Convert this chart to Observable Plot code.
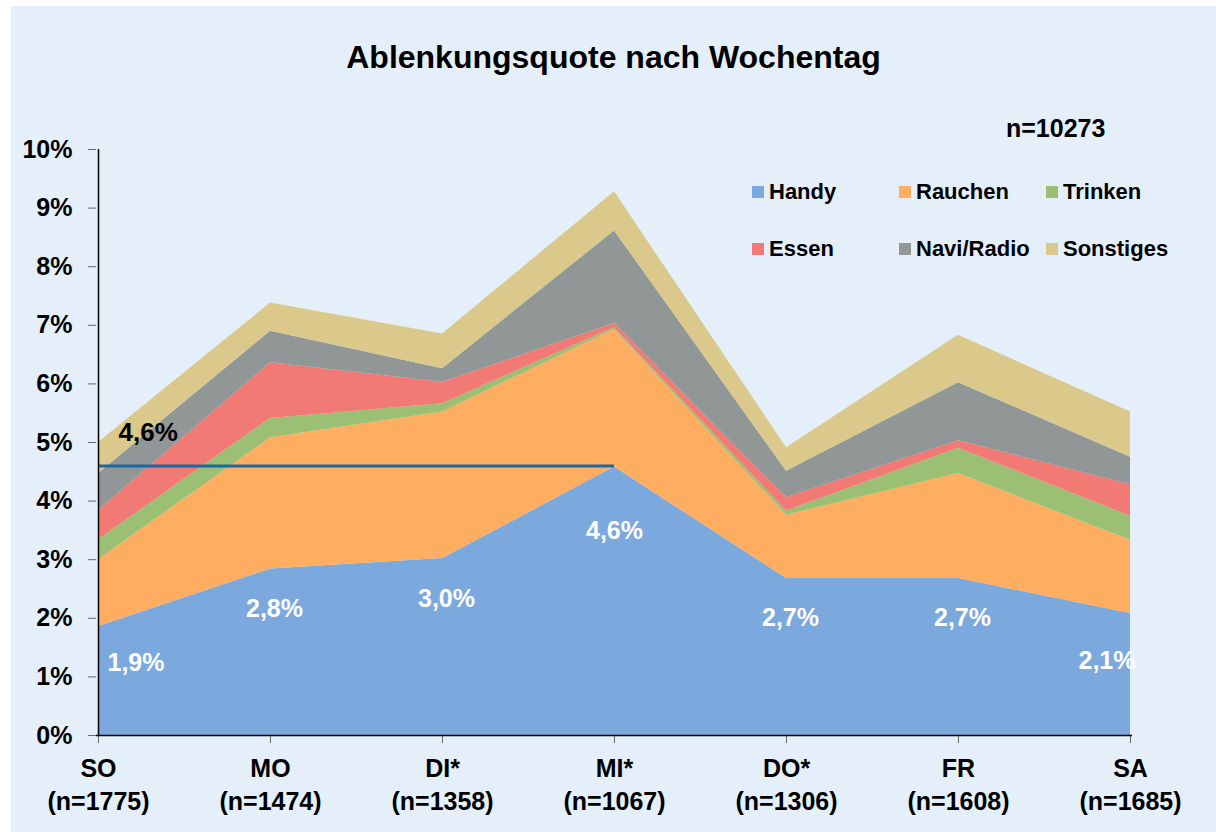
<!DOCTYPE html>
<html>
<head>
<meta charset="utf-8">
<script src="https://cdn.jsdelivr.net/npm/d3@7"></script>
<script src="https://cdn.jsdelivr.net/npm/@observablehq/plot@0.6"></script>
<style>
  html, body { margin: 0; padding: 0; background: #ffffff; }
  #wrap { position: relative; width: 1216px; height: 832px; overflow: hidden; font-family: "Liberation Sans", Arial, sans-serif; font-weight: bold; color: #000; }
  #panel { position: absolute; left: 11px; top: 6px; width: 1205px; height: 826px; background: #e4eff9; }
  #chart { position: absolute; left: 0; top: 0; }
  #title { position: absolute; left: 11px; width: 1205px; top: 38px; text-align: center; font-size: 32px; line-height: 38px; }
  #total { position: absolute; left: 1006px; top: 113px; font-size: 25px; line-height: 30px; }
  .leg { position: absolute; font-size: 22px; line-height: 26px; display: flex; align-items: center; }
  .leg span.sw { display: inline-block; width: 12px; height: 12px; margin-right: 5px; }
</style>
</head>
<body>
<div id="wrap">
  <div id="panel"></div>
  <div id="chart"></div>
  <div id="title"></div>
  <div id="total"></div>
  <div id="legend"></div>
</div>
<script>
// ---- data ----
const days = ["SO", "MO", "DI*", "MI*", "DO*", "FR", "SA"];
const counts = [1775, 1474, 1358, 1067, 1306, 1608, 1685];
const series = ["Handy", "Rauchen", "Trinken", "Essen", "Navi/Radio", "Sonstiges"];
const handy     = [1.86, 2.84, 3.02, 4.58, 2.68, 2.68, 2.08];
const rauchen   = [1.14, 2.24, 2.50, 2.35, 1.08, 1.79, 1.25];
const trinken   = [0.34, 0.33, 0.14, 0.03, 0.07, 0.43, 0.41];
const essen     = [0.50, 0.95, 0.37, 0.07, 0.23, 0.13, 0.54];
const navi      = [0.63, 0.54, 0.23, 1.58, 0.45, 0.99, 0.47];
const sonstiges = [0.53, 0.48, 0.59, 0.67, 0.40, 0.81, 0.77];
const colors = ["#7ba9de", "#ffad60", "#9bc073", "#f27a74", "#919696", "#dac98b"];
const yTicks = [0, 1, 2, 3, 4, 5, 6, 7, 8, 9, 10];
const meanRate = 4.6;
const totalN = 10273;
const titleText = "Ablenkungsquote nach Wochentag";

// ---- build table ----
const valuesBySeries = [handy, rauchen, trinken, essen, navi, sonstiges];
const table = [];
series.forEach((s, si) => {
  days.forEach((d, di) => table.push({day: d, series: s, value: valuesBySeries[si][di]}));
});
const handyRows = days.map((d, i) => ({day: d, value: handy[i], idx: i}));
const nByDay = new Map(days.map((d, i) => [d, counts[i]]));
const pct = v => d3.format(".1f")(v).replace(".", ",") + "%";

const white = {fill: "#ffffff", fontSize: 25, fontWeight: "bold"};

const chart = Plot.plot({
  width: 1216,
  height: 832,
  marginLeft: 96,
  marginRight: 84,
  marginTop: 149,
  marginBottom: 97,
  style: {background: "transparent", fontFamily: "'Liberation Sans', Arial, sans-serif", fontWeight: "bold", color: "#000"},
  x: {type: "point", domain: days, padding: 0, label: null},
  y: {domain: [0, 10], label: null},
  color: {domain: series, range: colors},
  marks: [
    Plot.areaY(table, {x: "day", y: "value", fill: "series", curve: "linear"}),
    Plot.ruleY([meanRate], {x1: () => days[0], x2: () => days[3], stroke: "#1a69a3", strokeWidth: 3}),
    Plot.text([meanRate], {x: () => days[0], y: d => d, text: d => pct(d), textAnchor: "start", dx: 20, dy: -33, fontSize: 26, fontWeight: "bold", fill: "#000"}),
    Plot.text(handyRows.filter(d => d.idx === 0), {x: "day", y: "value", text: d => pct(d.value), textAnchor: "start", dx: 9, dy: 36, ...white}),
    Plot.text(handyRows.filter(d => d.idx > 0 && d.idx < 6 && d.idx !== 3), {x: "day", y: "value", text: d => pct(d.value), dx: 4, dy: 40, ...white}),
    Plot.text(handyRows.filter(d => d.idx === 3), {x: "day", y: "value", text: d => pct(d.value), dx: 0, dy: 64, ...white}),
    Plot.text(handyRows.filter(d => d.idx === 6), {x: "day", y: "value", text: d => pct(d.value), textAnchor: "end", dx: 5, dy: 47, ...white}),
    Plot.axisY({ticks: yTicks, tickFormat: d => d + "%", tickSize: 8, tickPadding: 16, fontSize: 25, stroke: "#666", fill: "#000", label: null}),
    Plot.axisX({tickFormat: d => `${d}\n(n=${nByDay.get(d)})`, tickSize: 8, tickPadding: 10, fontSize: 25, lineHeight: 1.32, stroke: "#666", fill: "#000", label: null}),
    Plot.ruleY([0], {stroke: "#000", strokeWidth: 1.5}),
    Plot.ruleX([days[0]], {stroke: "#000", strokeWidth: 1.5})
  ]
});
document.getElementById("chart").appendChild(chart);

document.getElementById("title").textContent = titleText;
document.getElementById("total").textContent = "n=" + totalN;

// legend: 3 columns, 2 rows
const legendCols = [752, 899, 1046];
const legendRows = [192, 249];
const legend = document.getElementById("legend");
series.forEach((s, i) => {
  const el = document.createElement("div");
  el.className = "leg";
  el.style.left = legendCols[i % 3] + "px";
  el.style.top = (legendRows[Math.floor(i / 3)] - 13) + "px";
  const sw = document.createElement("span");
  sw.className = "sw";
  sw.style.background = colors[i];
  el.appendChild(sw);
  el.appendChild(document.createTextNode(s));
  legend.appendChild(el);
});
</script>
</body>
</html>
